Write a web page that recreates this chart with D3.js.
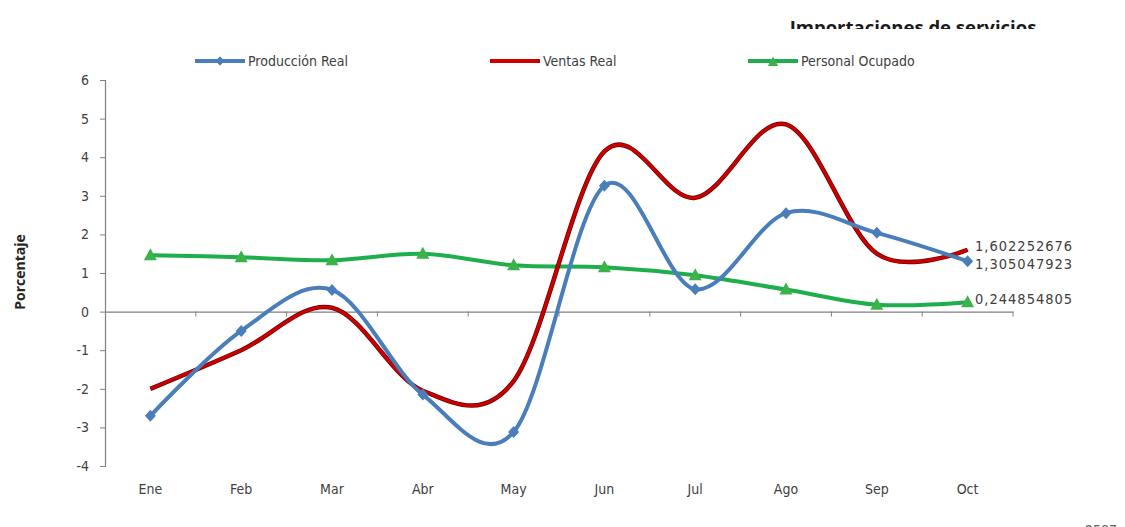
<!DOCTYPE html>
<html><head><meta charset="utf-8">
<script src="https://cdn.jsdelivr.net/npm/d3@7"></script>
<style>
html,body{margin:0;padding:0;background:#fff;}
svg{display:block;}
</style></head>
<body><svg id="c" width="1125" height="527"></svg>
<script>
const months = ["Ene","Feb","Mar","Abr","May","Jun","Jul","Ago","Sep","Oct"];
const produccion = [-2.7,-0.5,0.56,-2.15,-3.12,3.26,0.58,2.55,2.04,1.305047923];
const ventas = [-2.0,-1.0,0.1,-2.05,-1.8,4.15,2.95,4.85,1.5,1.602252676];
const personal = [1.46,1.41,1.33,1.5,1.2,1.15,0.94,0.57,0.18,0.244854805];
const yTicks = [-4,-3,-2,-1,0,1,2,3,4,5,6];
const seriesNames = ["Producción Real","Ventas Real","Personal Ocupado"];
const lastLabels = ["1,305047923","1,602252676","0,244854805"];

const svg = d3.select("#c");
const font = "'Liberation Sans Narrow','DejaVu Sans Condensed',sans-serif";
const x = d3.scaleBand().domain(months).range([105,1013]).paddingInner(0).paddingOuter(0);
const y = d3.scaleLinear().domain([-4,6]).range([466,80]);
const cx = m => x(m) + x.bandwidth()/2;

// title (clipped at the bottom)
svg.append("clipPath").attr("id","tclip").append("rect").attr("x",700).attr("y",0).attr("width",400).attr("height",29);
svg.append("text").attr("clip-path","url(#tclip)").attr("x",913).attr("y",34)
  .attr("text-anchor","middle").attr("font-family","'Open Sans',sans-serif").attr("font-weight","bold")
  .attr("font-size",18.5).attr("fill","#1a1a1a").text("Importaciones de servicios");

// y axis
const yAxis = svg.append("g").attr("transform","translate(105,0)")
  .call(d3.axisLeft(y).tickValues(yTicks).tickSize(5).tickFormat(d => String(d)));
yAxis.select(".domain").attr("stroke","#808080").attr("stroke-width",1.2);
yAxis.selectAll(".tick line").attr("stroke","#808080");
yAxis.selectAll(".tick text").attr("font-family",font).attr("font-size",14).attr("fill","#404040").attr("x",-16);

// x axis along zero
const xAxis = svg.append("g").attr("transform",`translate(0,${y(0)})`)
  .call(d3.axisBottom(x).tickSize(0).tickFormat(""));
xAxis.select(".domain").attr("stroke","#808080").attr("stroke-width",1.2);
const bounds = months.slice(1).map(m => x(m)).concat([x.range()[1]]);
xAxis.selectAll(".bt").data(bounds).enter().append("line").attr("class","bt")
  .attr("x1",d=>d).attr("x2",d=>d).attr("y1",0).attr("y2",5).attr("stroke","#808080");
// category labels at bottom
svg.append("g").selectAll("text").data(months).enter().append("text")
  .attr("x",d=>cx(d)).attr("y",494).attr("text-anchor","middle")
  .attr("font-family",font).attr("font-size",14).attr("fill","#404040").text(d=>d);

// y label
svg.append("text").attr("transform","translate(25,272) rotate(-90)").attr("text-anchor","middle")
  .attr("font-family","'Open Sans',sans-serif").attr("font-weight","bold").attr("font-size",14)
  .attr("fill","#262626").text("Porcentaje");

const curve = d3.curveCatmullRom.alpha(0);
const line = d3.line().x((d,i)=>cx(months[i])).y(d=>y(d)).curve(curve);

const blue = "#4a7ebb", red = "#cc0000", green = "#1fae4c";
svg.append("path").attr("d",line(personal)).attr("fill","none").attr("stroke",green).attr("stroke-width",4);
svg.append("path").attr("d",line(ventas)).attr("fill","none").attr("stroke","#6a0000").attr("stroke-width",4.5);
svg.append("path").attr("d",line(ventas)).attr("fill","none").attr("stroke",red).attr("stroke-width",3);
svg.append("path").attr("d",line(produccion)).attr("fill","none").attr("stroke",blue).attr("stroke-width",4);

const diamondPath = "M0,-6L5.5,0L0,6L-5.5,0Z";
const triPath = "M0,-7L6.5,5L-6.5,5Z";
svg.append("g").selectAll("path").data(produccion).enter().append("path")
  .attr("d",diamondPath).attr("transform",(d,i)=>`translate(${cx(months[i])},${y(d)})`).attr("fill",blue);
svg.append("g").selectAll("path").data(personal).enter().append("path")
  .attr("d",triPath).attr("transform",(d,i)=>`translate(${cx(months[i])},${y(d)})`).attr("fill","#3cb34a");

// end labels
const lab = svg.append("g").attr("font-family",font).attr("font-size",14.5).attr("fill","#404040").attr("letter-spacing",1);
lab.append("text").attr("x",975).attr("y",y(ventas[9])+1).text(lastLabels[1]);
lab.append("text").attr("x",975).attr("y",y(produccion[9])+8).text(lastLabels[0]);
lab.append("text").attr("x",975).attr("y",y(personal[9])+2).text(lastLabels[2]);

// legend
const leg = [{n:seriesNames[0],c:blue,x0:195,m:"d"},{n:seriesNames[1],c:red,x0:490,m:null},{n:seriesNames[2],c:green,x0:748,m:"t"}];
const lg = svg.append("g");
leg.forEach(L=>{
  lg.append("line").attr("x1",L.x0).attr("x2",L.x0+50).attr("y1",61).attr("y2",61).attr("stroke",L.c).attr("stroke-width",4);
  if(L.m==="d") lg.append("path").attr("d",diamondPath).attr("transform",`translate(${L.x0+25},61) scale(0.8)`).attr("fill",blue);
  if(L.m==="t") lg.append("path").attr("d",triPath).attr("transform",`translate(${L.x0+25},62) scale(0.8)`).attr("fill","#3cb34a");
  lg.append("text").attr("x",L.x0+53).attr("y",66).attr("font-family",font).attr("font-size",14).attr("fill","#404040").text(L.n);
});

// cropped footer number (cut at the bottom edge, as in the reference)
svg.append("text").attr("x",1085).attr("y",535).attr("font-family",font).attr("font-size",14).attr("fill","#606060").text("2587");
</script></body></html>
